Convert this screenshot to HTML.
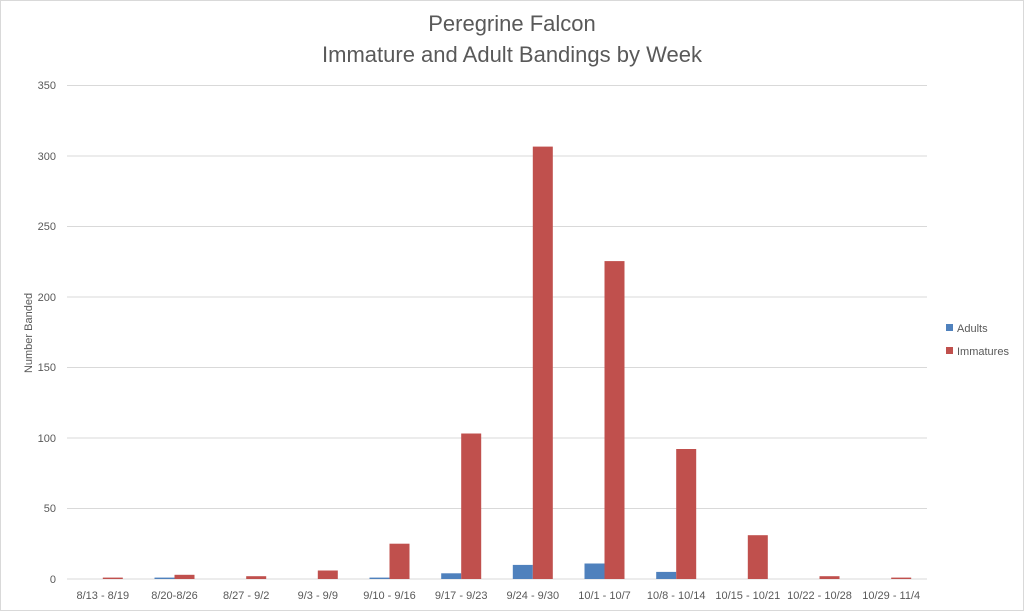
<!DOCTYPE html>
<html><head><style>body{margin:0;background:#fff}</style></head><body>
<svg width="1024" height="611" xmlns="http://www.w3.org/2000/svg" font-family="Liberation Sans, sans-serif">
<rect x="0.5" y="0.5" width="1023" height="610" fill="#fff" stroke="#d9d9d9"/>
<text x="512" y="31" text-anchor="middle" font-size="22" fill="#595959">Peregrine Falcon</text>
<text x="512" y="62" text-anchor="middle" font-size="22" fill="#595959">Immature and Adult Bandings by Week</text>
<g stroke="#d9d9d9" stroke-width="1">
<line x1="67" x2="927" y1="85.5" y2="85.5"/><line x1="67" x2="927" y1="156" y2="156"/>
<line x1="67" x2="927" y1="226.5" y2="226.5"/><line x1="67" x2="927" y1="297" y2="297"/>
<line x1="67" x2="927" y1="367.5" y2="367.5"/><line x1="67" x2="927" y1="438" y2="438"/>
<line x1="67" x2="927" y1="508.5" y2="508.5"/><line x1="67" x2="927" y1="579" y2="579"/>
</g>
<g font-size="11" fill="#595959" text-anchor="end">
<text x="56" y="89">350</text><text x="56" y="160">300</text><text x="56" y="230">250</text>
<text x="56" y="301">200</text><text x="56" y="371">150</text><text x="56" y="442">100</text>
<text x="56" y="512">50</text><text x="56" y="583">0</text>
</g>
<text transform="translate(32,333) rotate(-90)" text-anchor="middle" font-size="11" fill="#595959">Number Banded</text>
<g fill="#4f81bd">
<rect x="154.5" y="577.6" width="20" height="1.4"/>
<rect x="369.5" y="577.6" width="20" height="1.4"/>
<rect x="441.2" y="573.3" width="20" height="5.7"/>
<rect x="512.8" y="564.9" width="20" height="14.1"/>
<rect x="584.5" y="563.5" width="20" height="15.5"/>
<rect x="656.2" y="571.9" width="20" height="7.1"/>
</g>
<g fill="#c0504d">
<rect x="102.8" y="577.6" width="20" height="1.4"/>
<rect x="174.5" y="574.8" width="20" height="4.2"/>
<rect x="246.2" y="576.2" width="20" height="2.8"/>
<rect x="317.8" y="570.5" width="20" height="8.5"/>
<rect x="389.5" y="543.7" width="20" height="35.3"/>
<rect x="461.2" y="433.5" width="20" height="145.5"/>
<rect x="532.8" y="146.6" width="20" height="432.4"/>
<rect x="604.5" y="261.1" width="20" height="317.9"/>
<rect x="676.2" y="449" width="20" height="130"/>
<rect x="747.8" y="535.2" width="20" height="43.8"/>
<rect x="819.5" y="576.2" width="20" height="2.8"/>
<rect x="891.2" y="577.6" width="20" height="1.4"/>
</g>
<g font-size="11" fill="#595959" text-anchor="middle">
<text x="102.8" y="599">8/13 - 8/19</text>
<text x="174.5" y="599">8/20-8/26</text>
<text x="246.2" y="599">8/27 - 9/2</text>
<text x="317.8" y="599">9/3 - 9/9</text>
<text x="389.5" y="599">9/10 - 9/16</text>
<text x="461.2" y="599">9/17 - 9/23</text>
<text x="532.8" y="599">9/24 - 9/30</text>
<text x="604.5" y="599">10/1 - 10/7</text>
<text x="676.2" y="599">10/8 - 10/14</text>
<text x="747.8" y="599">10/15 - 10/21</text>
<text x="819.5" y="599">10/22 - 10/28</text>
<text x="891.2" y="599">10/29 - 11/4</text>
</g>
<rect x="946" y="324" width="7" height="7" fill="#4f81bd"/>
<text x="957" y="332" font-size="11" fill="#595959">Adults</text>
<rect x="946" y="347" width="7" height="7" fill="#c0504d"/>
<text x="957" y="355" font-size="11" fill="#595959">Immatures</text>
</svg>
</body></html>
